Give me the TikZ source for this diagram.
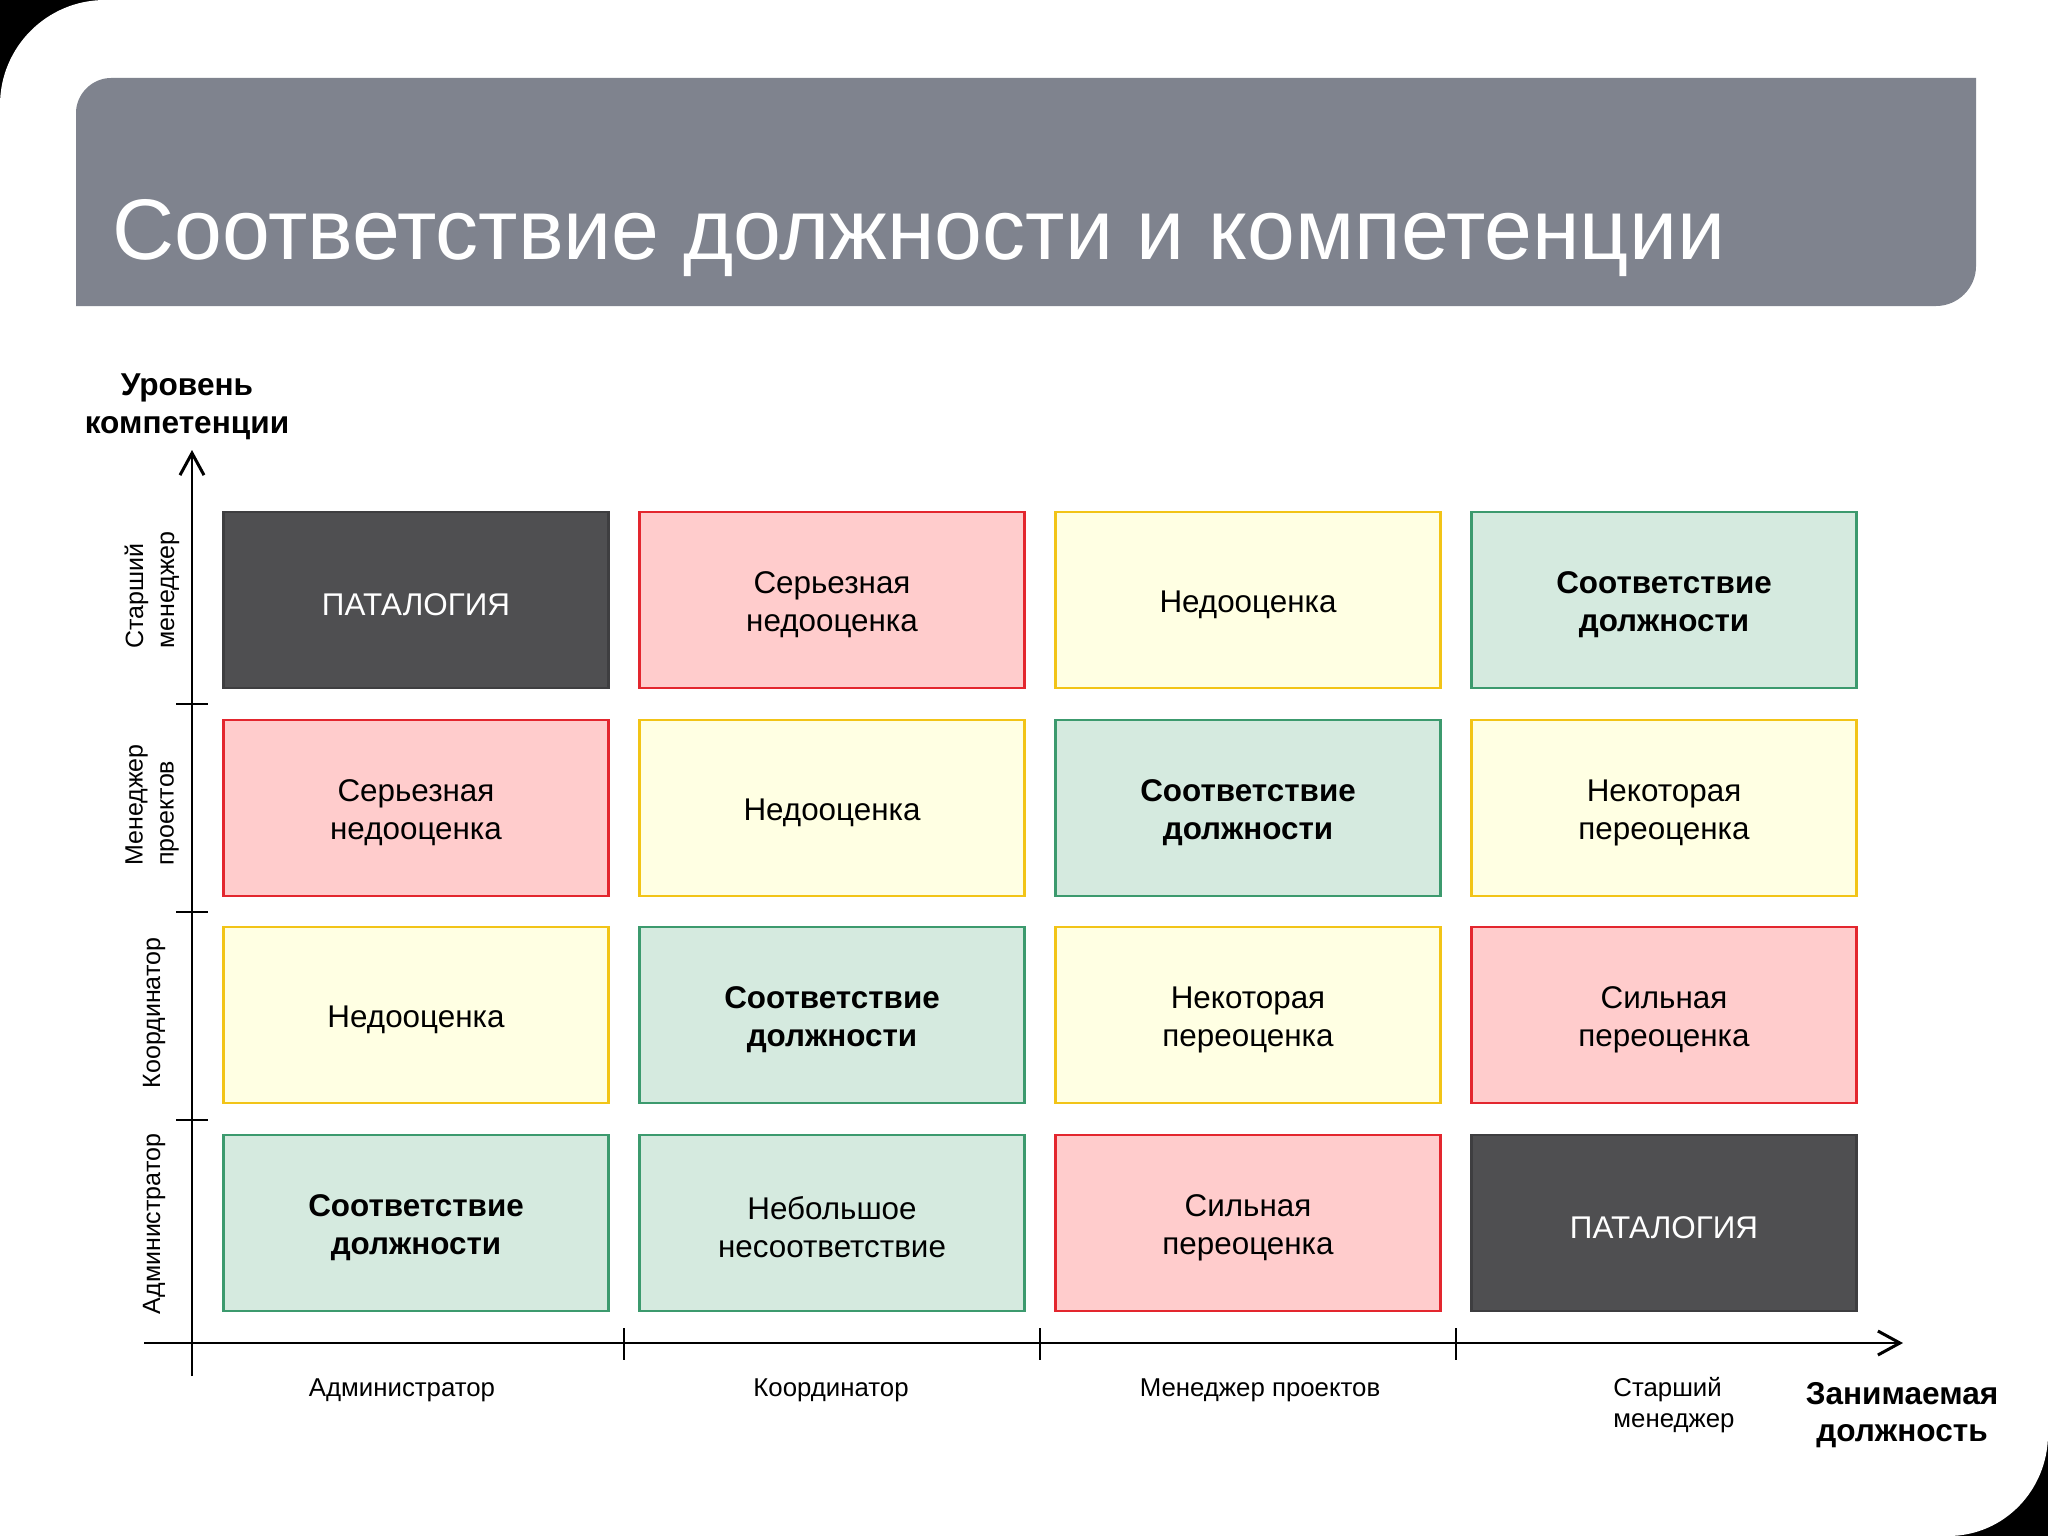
\documentclass[tikz,border=0pt]{standalone}
\usepackage{fontspec}
\setmainfont{Liberation Sans}
\usetikzlibrary{arrows.meta}
\definecolor{hdr}{HTML}{7F838E}
\definecolor{darkf}{HTML}{4F4F51}
\definecolor{darkb}{HTML}{3E3E40}
\definecolor{pinkf}{HTML}{FFCCCC}
\definecolor{pinkb}{HTML}{E3262E}
\definecolor{yelf}{HTML}{FFFFE3}
\definecolor{yelb}{HTML}{F2C417}
\definecolor{grnf}{HTML}{D5EADF}
\definecolor{grnb}{HTML}{3C9A6E}
\tikzset{
  cell/.style={minimum width=192.5pt, minimum height=88pt, line width=1.2pt, align=center, inner sep=0pt,
    font=\fontsize{15.7pt}{19pt}\selectfont},
  celltext/.style={inner sep=0pt, align=center, yshift=-2.3pt, font=\fontsize{15.7pt}{19pt}\selectfont},
  darkcell/.style={cell, fill=darkf, draw=darkb},
  pinkcell/.style={cell, fill=pinkf, draw=pinkb},
  yelcell/.style={cell, fill=yelf, draw=yelb},
  grncell/.style={cell, fill=grnf, draw=grnb},
  axisline/.style={line width=1.2pt, black},
  ticksty/.style={line width=1.1pt, black},
  xlab/.style={font=\fontsize{12.9pt}{15.5pt}\selectfont, align=left, inner sep=0pt},
  ylab/.style={font=\fontsize{12.5pt}{15.5pt}\selectfont, align=left, inner sep=0pt, rotate=90},
  axtitle/.style={font=\bfseries\fontsize{15.8pt}{18.8pt}\selectfont, align=center, inner sep=0pt}
}
\newcommand{\cellat}[5]{% name, style, x, y, text
  \node[#2] (#1) at (#3,#4) {};
  \node[celltext] (#1t) at (#1) {#5};
}
\begin{document}
\begin{tikzpicture}[x=0.5pt,y=-0.5pt]
\useasboundingbox (0,0) rectangle (2048,1536);
% slide background
\fill[black] (0,0) rectangle (2048,1536);
\fill[white] (0,1536) -- (0,105) .. controls (0,47) and (47,0) .. (105,0) -- (2048,0) -- (2048,1434)
  .. controls (2048,1490) and (2004,1536) .. (1948,1536) -- cycle;
% header
\fill[hdr] (76,306) -- (76,113) .. controls (76,94) and (92,78) .. (111,78) -- (1976,78) -- (1976,266)
  .. controls (1976,288) and (1958,306) .. (1936,306) -- cycle;
\node[anchor=base west, inner sep=0pt, text=white, font=\fontsize{43pt}{50pt}\selectfont] (title) at (112,259)
  {Соответствие должности и компетенции};
% cells
\cellat{c11}{darkcell}{416}{600}{\color{white}ПАТАЛОГИЯ}
\cellat{c12}{pinkcell}{832}{600}{Серьезная\\недооценка}
\cellat{c13}{yelcell}{1248}{600}{Недооценка}
\cellat{c14}{grncell}{1664}{600}{\bfseries Соответствие\\\bfseries должности}
\cellat{c21}{pinkcell}{416}{808}{Серьезная\\недооценка}
\cellat{c22}{yelcell}{832}{808}{Недооценка}
\cellat{c23}{grncell}{1248}{808}{\bfseries Соответствие\\\bfseries должности}
\cellat{c24}{yelcell}{1664}{808}{Некоторая\\переоценка}
\cellat{c31}{yelcell}{416}{1015}{Недооценка}
\cellat{c32}{grncell}{832}{1015}{\bfseries Соответствие\\\bfseries должности}
\cellat{c33}{yelcell}{1248}{1015}{Некоторая\\переоценка}
\cellat{c34}{pinkcell}{1664}{1015}{Сильная\\переоценка}
\cellat{c41}{grncell}{416}{1223}{\bfseries Соответствие\\\bfseries должности}
\cellat{c42}{grncell}{832}{1223}{Небольшое\\несоответствие}
\cellat{c43}{pinkcell}{1248}{1223}{Сильная\\переоценка}
\cellat{c44}{darkcell}{1664}{1223}{\color{white}ПАТАЛОГИЯ}
% axes
\coordinate (yb) at (192,1376);
\coordinate (yt) at (192,450);
\coordinate (xl) at (144,1343);
\coordinate (xr) at (1903,1343);
\draw[axisline, -{Straight Barb[length=11pt,width=12pt,line width=1.5pt]}] (yb) -- (yt);
\draw[axisline, -{Straight Barb[length=11pt,width=12pt,line width=1.5pt]}] (xl) -- (xr);
\foreach \ty in {704,912,1120} \draw[ticksty] (176,\ty) -- (208,\ty);
\foreach \tx in {624,1040,1456} \draw[ticksty] (\tx,1328) -- (\tx,1360);
% axis titles
\node[axtitle] (ytitle) at (187,407) {Уровень\\компетенции};
\node[axtitle] (xtitle) at (1902,1415) {Занимаемая\\должность};
% x labels
\node[xlab] (xl1) at (402,1390) {Администратор};
\node[xlab] (xl2) at (831,1390) {Координатор};
\node[xlab] (xl3) at (1260,1390) {Менеджер проектов};
\node[xlab, anchor=west] (xl4) at (1613,1405) {Старший\\менеджер};
% y labels
\node[ylab, anchor=west] (yl1) at (152,649) {Старший\\менеджер};
\node[ylab, anchor=west] (yl2) at (152,866) {Менеджер\\проектов};
\node[ylab] (yl3) at (154,1013) {Координатор};
\node[ylab] (yl4) at (154,1224) {Администратор};
\end{tikzpicture}
\end{document}
